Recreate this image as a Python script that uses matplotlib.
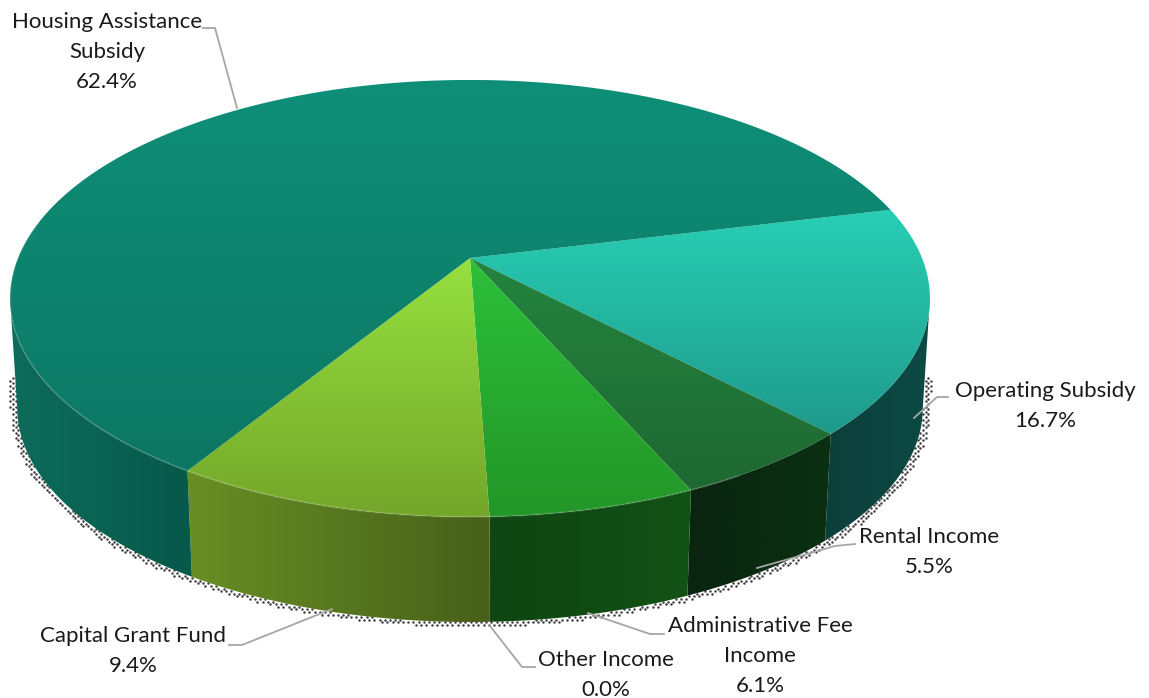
import numpy as np
import matplotlib
matplotlib.use('Agg')
import matplotlib.pyplot as plt
from matplotlib.colors import LinearSegmentedColormap
from matplotlib.patches import Polygon
from matplotlib.path import Path

# data, clockwise from the start angle
names = ['Operating Subsidy', 'Rental Income', 'Administrative Fee\nIncome', 'Other Income',
         'Capital Grant Fund', 'Housing Assistance\nSubsidy']
values = [16.7, 5.5, 6.1, 0.0, 9.4, 62.4]

# colours per slice
top_start = ['#28cfb4', '#23843f', '#2dc03a', '#2dc03a', '#96e03f', '#0f8f78']
top_end = ['#1f9a8c', '#1f6832', '#239628', '#239628', '#74a62a', '#0c7763']
side_start = ['#0c3f3b', '#0a2410', '#0f4512', '#0f4512', '#688f24', '#0d6c5b']
side_end = ['#0d4a44', '#0a3012', '#125216', '#125216', '#47601a', '#07594a']

# label centres and leader lines, in pixels
label_x = [1045, 929, 760, 606, 133, 107]
label_y = [406, 552, 656, 675, 651, 52]
leaders = [
    [(948, 397), (937, 397), (914, 418)],
    [(855, 544), (835, 546), (757, 568)],
    [(664, 634), (650, 634), (588, 613)],
    [(535, 667), (522, 667), (490, 626)],
    [(229, 645), (242, 645), (332, 609)],
    [(203, 28), (215, 28), (237, 108)],
]

start_angle = 13.8
k = 0.185
# where the side of the pie turns away from the viewer
edge = np.arcsin(k)


def rim(t, cx, cy, a, b):
    w = 1 + k * np.sin(t)
    return cx + a * np.cos(t) / w, cy - b * np.sin(t) / w


def top_rim(t):
    return rim(t, 470, 258, 452, 211)


def low_rim(t):
    return rim(t, 470, 368, 445, 207)


def gradient(ax, pts, c1, c2, horizontal):
    pts = np.array(pts)
    cmap = LinearSegmentedColormap.from_list('g', [c1, c2])
    g = np.linspace(0, 1, 256)
    g = g.reshape(1, -1) if horizontal else g.reshape(-1, 1)
    x0, x1 = pts[:, 0].min(), pts[:, 0].max()
    y0, y1 = pts[:, 1].min(), pts[:, 1].max()
    im = ax.imshow(g, cmap=cmap, extent=[x0, x1, y1, y0], aspect='auto', zorder=3, interpolation='bilinear')
    im.set_clip_path(Polygon(pts, closed=True, transform=ax.transData))


fig = plt.figure(figsize=(11.49, 6.98), dpi=100)
ax = fig.add_axes([0, 0, 1, 1])

# dotted shadow just outside the front of the pie
t_front = np.linspace(-edge, -np.pi + edge, 400)
t_back = np.linspace(np.pi + edge, -edge, 400)
lx, ly = low_rim(t_front)
tx, ty = top_rim(t_back)
outline = np.column_stack([np.r_[lx, tx], np.r_[ly, ty]])
body = Path(outline)
shadow = Path(np.column_stack([470 + (outline[:, 0] - 470) * 1.015, 320 + (outline[:, 1] - 320) * 1.012 + 1]))
step = 2.6
gx, gy = np.meshgrid(np.arange(0, 1149, step), np.arange(378, 698, step))
odd = (np.round(gx / step) + np.round(gy / step)) % 2 == 0
grid = np.column_stack([gx[odd], gy[odd]])
keep = shadow.contains_points(grid) & ~body.contains_points(grid)
ax.scatter(grid[keep, 0], grid[keep, 1], s=3.2, color='#404040', linewidths=0, zorder=1)

total = sum(values)
angle = np.radians(start_angle)
slices = []
for v in values:
    sweep = 2 * np.pi * v / total
    slices.append((angle, angle - sweep))
    angle -= sweep

# side walls first, only the part facing the viewer
for i, (a0, a1) in enumerate(slices):
    if values[i] == 0:
        continue
    t = np.linspace(min(a0, -edge), max(a1, -np.pi + edge), 300)
    x1, y1 = top_rim(t)
    x2, y2 = low_rim(t)
    pts = list(zip(x1, y1)) + list(zip(x2[::-1], y2[::-1]))
    gradient(ax, pts, side_start[i], side_end[i], True)

# top faces
for i, (a0, a1) in enumerate(slices):
    if values[i] == 0:
        continue
    t = np.linspace(a0, a1, 300)
    x1, y1 = top_rim(t)
    pts = [(470, 258)] + list(zip(x1, y1))
    gradient(ax, pts, top_start[i], top_end[i], False)

# light edge along the front of the top face
t = np.radians(np.linspace(-60, -190, 300))
ex, ey = top_rim(t)
ax.plot(ex, ey, color='white', alpha=0.1, lw=1.6, zorder=4)

for pts in leaders:
    ax.plot([p[0] for p in pts], [p[1] for p in pts], color='#a6a6a6', lw=1.3, zorder=5)

for i, name in enumerate(names):
    ax.text(label_x[i], label_y[i], f'{name}\n{values[i]:.1f}%', ha='center', va='center',
            family='Lato', fontsize=16, color='#1a1a1a', linespacing=1.62, zorder=6)

ax.set_xlim(0, 1149)
ax.set_ylim(698, 0)
ax.axis('off')
fig.savefig('out.png', dpi=100, facecolor='white')
